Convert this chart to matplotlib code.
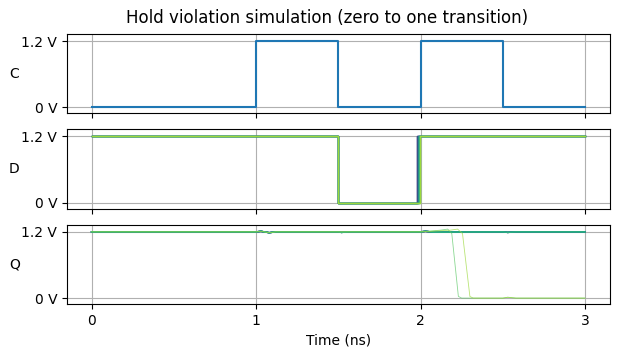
import numpy as np
import matplotlib.pyplot as plt

# clock edges (ns) and levels
clk_t = [0.0, 1.0, 1.0, 1.5, 1.5, 2.0, 2.0, 2.5, 2.5, 3.0]
clk_v = [0.0, 0.0, 1.2, 1.2, 0.0, 0.0, 1.2, 1.2, 0.0, 0.0]

# D goes low at 1.5 ns and comes back high at these times (one sweep per trace)
d_fall = 1.5
d_rise = [1.976, 1.979, 1.982, 1.985, 1.988, 1.991, 1.994, 1.997]

# Q output: breakpoints for traces that keep the value
q_ok_t = [0.0, 1.0, 1.03, 1.08, 1.12, 1.5, 1.52, 1.56, 2.0, 2.03, 2.08, 2.5, 2.53, 2.58, 3.0]
q_ok_v = [1.2, 1.2, 1.21, 1.185, 1.2, 1.2, 1.19, 1.2, 1.2, 1.21, 1.195, 1.2, 1.19, 1.2, 1.2]

# Q for the traces that fail (last two): bump then fall to 0
q_fail_t = [[0.0, 1.0, 1.03, 1.08, 1.12, 2.0, 2.12, 2.165, 2.19, 2.23, 2.25, 2.5, 2.53, 2.58, 3.0],
            [0.0, 1.0, 1.03, 1.08, 1.12, 2.0, 2.18, 2.225, 2.255, 2.3, 2.32, 2.5, 2.53, 2.58, 3.0]]
q_fail_v = [[1.2, 1.2, 1.21, 1.185, 1.2, 1.2, 1.23, 1.25, 1.17, 0.03, 0.0, 0.0, 0.015, 0.0, 0.0],
            [1.2, 1.2, 1.21, 1.185, 1.2, 1.2, 1.23, 1.25, 1.17, 0.03, 0.0, 0.0, 0.015, 0.0, 0.0]]

n = len(d_rise)
colors = plt.cm.viridis(np.linspace(0.1, 0.85, n))

fig, axs = plt.subplots(3, 1, sharex=True, figsize=(6.19, 3.57), dpi=100)
fig.subplots_adjust(left=0.108, right=0.985, top=0.905, bottom=0.148, hspace=0.2)

axs[0].plot(clk_t, clk_v, color='tab:blue', lw=1.5)

for i in range(n):
    t = [0.0, d_fall, d_fall, d_rise[i], d_rise[i], 3.0]
    v = [1.2, 1.2, 0.0, 0.0, 1.2, 1.2]
    axs[1].plot(t, v, color=colors[i], lw=1)

for i in range(n):
    k = i - (n - 2)
    if k >= 0:
        axs[2].plot(q_fail_t[k], q_fail_v[k], color=colors[i], lw=0.6, alpha=0.7)
    else:
        axs[2].plot(q_ok_t, q_ok_v, color=colors[i], lw=1)

for ax, name in zip(axs, ['C', 'D', 'Q']):
    ax.set_ylim(-0.11, 1.33)
    ax.set_yticks([0, 1.2])
    ax.set_yticklabels(['0 V', '1.2 V'])
    ax.set_ylabel(name, rotation=0, labelpad=5, va='center')
    ax.grid(True)

axs[2].set_xticks([0, 1, 2, 3])
axs[2].set_xlabel('Time (ns)')
fig.suptitle('Hold violation simulation (zero to one transition)', fontsize=12, x=0.528, y=0.975)

plt.savefig('out.png')
